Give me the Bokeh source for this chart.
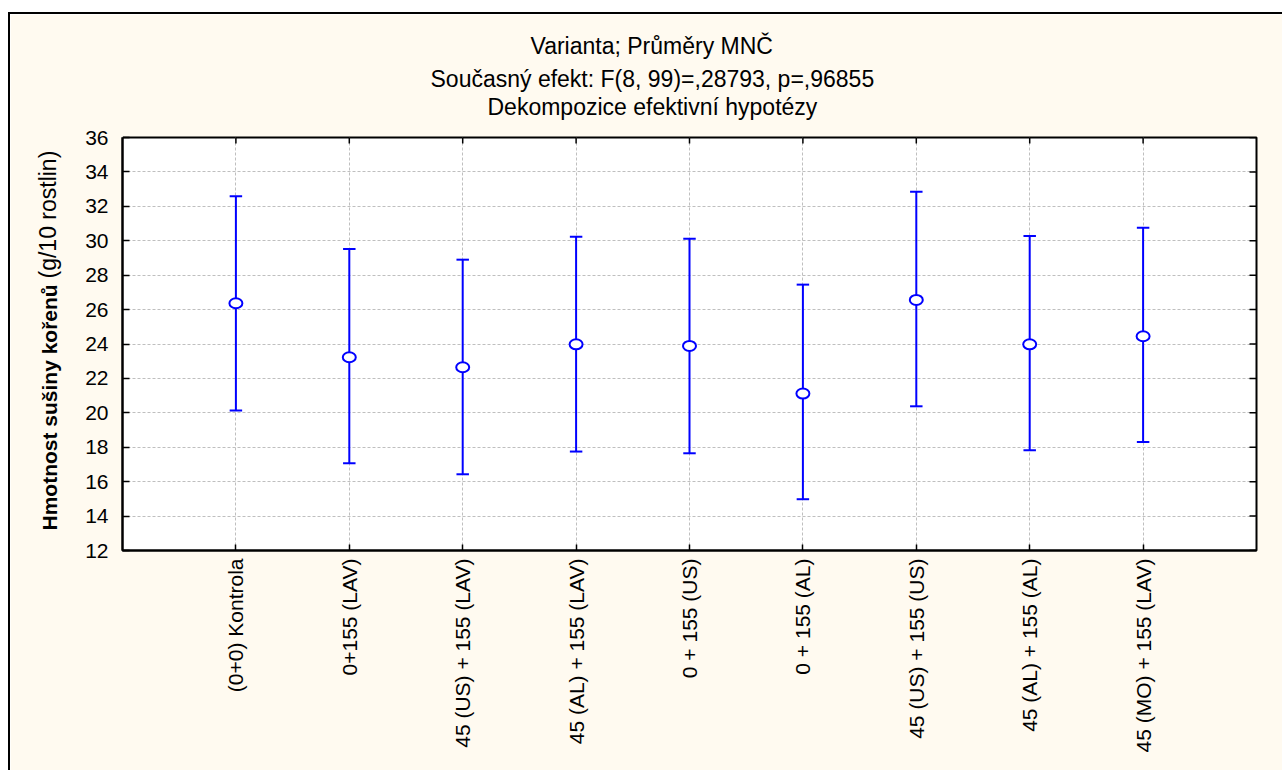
import math
from bokeh.plotting import figure
from bokeh.models import Range1d, FixedTicker, Title, LinearAxis
from bokeh.embed import file_html
from bokeh.resources import INLINE

# ---- data ----
categories = ["(0+0) Kontrola", "0+155 (LAV)", "45 (US) + 155 (LAV)", "45 (AL) + 155 (LAV)",
              "0 + 155 (US)", "0 + 155 (AL)", "45 (US) + 155 (US)", "45 (AL) + 155 (AL)",
              "45 (MO) + 155 (LAV)"]
means = [26.37, 23.23, 22.65, 23.98, 23.89, 21.12, 26.56, 23.98, 24.45]
upper = [32.59, 29.52, 28.90, 30.23, 30.12, 27.45, 32.85, 30.27, 30.76]
lower = [20.13, 17.07, 16.43, 17.75, 17.65, 14.98, 20.38, 17.83, 18.31]
y_ticks = list(range(12, 37, 2))
title_lines = ["Varianta; Průměry MNČ",
               "Současný efekt: F(8, 99)=,28793, p=,96855",
               "Dekompozice efektivní hypotézy"]
ylabel_bold = "Hmotnost sušiny kořenů"
ylabel_normal = "(g/10 rostlin)"

FONT = "Liberation Sans"
BLUE = "#0000ff"
CREAM = "#fffaf0"

xs = list(range(1, len(categories) + 1))
x_lo, x_hi = 0, len(categories) + 1
y_lo, y_hi = y_ticks[0], y_ticks[-1]
cap = 0.055

p = figure(width=1274, height=758, x_range=Range1d(x_lo, x_hi), y_range=Range1d(y_lo, y_hi),
           title=None, output_backend="svg", toolbar_location=None,
           min_border_left=112, min_border_right=28, min_border_top=123, min_border_bottom=222,
           background_fill_color="white", border_fill_color=CREAM,
           outline_line_color="black", outline_line_width=2)
p.margin = (12, 0, 0, 8)
p.styles = {"border-top": "2px solid black", "border-left": "2px solid black"}

xticker = FixedTicker(ticks=xs)
yticker = FixedTicker(ticks=y_ticks)

xa = p.xaxis[0]
xa.ticker = xticker
xa.major_label_overrides = {x: c for x, c in zip(xs, categories)}
xa.major_label_orientation = math.pi / 2
ya = p.yaxis[0]
ya.ticker = yticker

for ax in (xa, ya):
    ax.major_label_text_font = FONT
    ax.major_label_text_font_size = "21px"
    ax.major_label_text_color = "black"
    ax.axis_line_color = "black"
    ax.axis_line_width = 2
    ax.major_tick_line_color = "black"
    ax.major_tick_line_width = 1.5
    ax.major_tick_out = 0
    ax.minor_tick_line_color = None
xa.major_tick_in = 6
ya.major_tick_in = 7
xa.major_label_standoff = 8
ya.major_label_standoff = 14

p.xgrid.ticker = xticker
p.ygrid.ticker = yticker
for g in (p.xgrid, p.ygrid):
    g.grid_line_color = "#bfbfbf"
    g.grid_line_dash = "3 2"
    g.grid_line_width = 1

# inner tick marks on the top and right frame edges (half of each dash is clipped by the frame)
p.scatter(x=[x_hi] * len(y_ticks), y=y_ticks, marker="dash", size=14,
          line_color="black", line_width=1.5)
p.scatter(x=xs, y=[y_hi] * len(xs), marker="dash", angle=math.pi / 2, size=12,
          line_color="black", line_width=1.5)

# error bars and means
p.segment(x0=xs, y0=lower, x1=xs, y1=upper, line_color=BLUE, line_width=2)
p.segment(x0=[x - cap for x in xs], y0=upper, x1=[x + cap for x in xs], y1=upper, line_color=BLUE, line_width=2)
p.segment(x0=[x - cap for x in xs], y0=lower, x1=[x + cap for x in xs], y1=lower, line_color=BLUE, line_width=2)
p.ellipse(x=xs, y=means, width=13, height=10, width_units="screen", height_units="screen",
          fill_color="white", line_color=BLUE, line_width=2)

# invisible spacer axis between frame and titles (one cream tick at the frame corner, empty label)
spacer = LinearAxis(ticker=FixedTicker(ticks=[x_lo]), major_label_overrides={x_lo: ""},
                    major_tick_out=14, major_tick_in=0, major_label_standoff=0,
                    axis_line_color=None, minor_tick_line_color=None,
                    major_tick_line_color=CREAM, major_label_text_color=CREAM)
p.add_layout(spacer, "above")

# three title lines (innermost added first), left-aligned with offsets so they centre at x~652
title_offsets = [408, 308, 365]
title_standoffs = [18, -8, 8]
for txt, off, so in reversed(list(zip(title_lines, title_offsets, title_standoffs))):
    p.add_layout(Title(text=txt, align="left", offset=off, standoff=so,
                       text_font=FONT, text_font_size="23px", text_font_style="normal",
                       text_color="black"), "above")

# y axis title: bold part and normal part on one line
p.add_layout(Title(text=ylabel_bold, align="left", offset=20, standoff=44,
                   text_font=FONT, text_font_size="21px", text_font_style="bold",
                   text_color="black"), "left")
p.add_layout(Title(text=ylabel_normal, align="left", offset=272, standoff=-95,
                   text_font=FONT, text_font_size="23px", text_font_style="normal",
                   text_color="black"), "left")

open("out.html", "w").write(file_html(p, INLINE))
